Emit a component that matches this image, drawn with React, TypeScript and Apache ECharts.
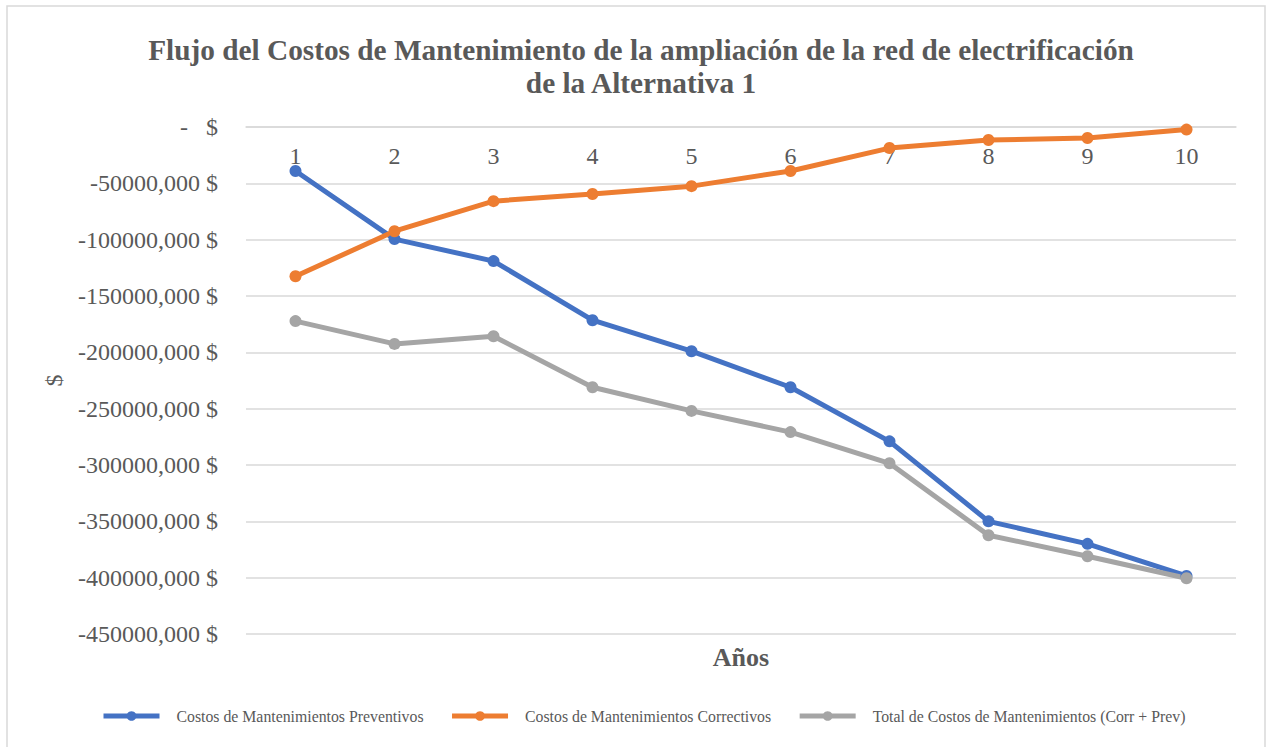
import React, { useEffect, useRef } from "react";
import * as echarts from "echarts";

const years = ["1", "2", "3", "4", "5", "6", "7", "8", "9", "10"];
const preventivos = [-39000, -99500, -119000, -171500, -199000, -231000, -279000, -350000, -370000, -398500];
const correctivos = [-132500, -92500, -65800, -59500, -52500, -39000, -18700, -11500, -9800, -2300];
const total = [-172300, -192500, -185700, -231000, -252000, -270800, -298500, -362300, -381000, -400500];

const FONT = '"Liberation Serif", "Times New Roman", serif';
const TXT = "#595959";
const GRID = "#d9d9d9";

export default function App() {
  const ref = useRef<HTMLDivElement>(null);
  useEffect(() => {
    if (!ref.current) return;
    const chart = echarts.init(ref.current, undefined, { renderer: "svg" });
    const mk = (name: string, data: number[], color: string) => ({
      name,
      type: "line",
      data,
      symbol: "circle",
      symbolSize: 12,
      itemStyle: { color },
      lineStyle: { color, width: 5 },
    });
    chart.setOption({
      animation: false,
      backgroundColor: "#fff",
      title: {
        text: "Flujo del Costos de Mantenimiento de la ampliación de la red de electrificación\nde la Alternativa 1",
        left: 636,
        textAlign: "center",
        top: 28,
        textStyle: { fontFamily: FONT, fontWeight: "bold", fontSize: 29.3, color: TXT, lineHeight: 33 },
      },
      grid: { left: 246, right: 30, top: 127, bottom: 113, containLabel: false },
      xAxis: {
        type: "category",
        data: years,
        position: "top",
        boundaryGap: true,
        axisLine: { show: true, lineStyle: { color: GRID, width: 1.5 } },
        axisTick: { show: false },
        axisLabel: { inside: true, margin: 17, fontFamily: FONT, fontSize: 24, color: TXT },
        splitLine: { show: false },
      },
      yAxis: {
        type: "value",
        min: -450000,
        max: 0,
        interval: 50000,
        name: "$",
        nameLocation: "middle",
        nameGap: 180,
        nameRotate: 90,
        nameTextStyle: { fontFamily: FONT, fontSize: 24, color: TXT },
        axisLine: { show: false },
        axisTick: { show: false },
        axisLabel: {
          margin: 28,
          fontFamily: FONT,
          fontSize: 24,
          color: TXT,
          formatter: (v: number) => (v === 0 ? "-   $" : `${v},000 $`),
        },
        splitLine: { lineStyle: { color: GRID, width: 1.5 } },
      },
      legend: {
        bottom: 18,
        left: 96,
        itemWidth: 56,
        itemHeight: 12,
        itemGap: 26,
        lineStyle: { width: 5 },
        textStyle: { fontFamily: FONT, fontSize: 15.8, color: TXT, padding: [0, 0, 0, 12] },
        data: [
          "Costos de Mantenimientos Preventivos",
          "Costos de Mantenimientos Correctivos",
          "Total de Costos de Mantenimientos (Corr + Prev)",
        ],
      },
      graphic: [
        {
          type: "rect",
          shape: { x: 7, y: 6, width: 1258, height: 760 },
          style: { fill: "none", stroke: GRID, lineWidth: 1.5 },
          silent: true,
        },
        {
          type: "text",
          x: 741,
          y: 657,
          style: {
            text: "Años",
            textAlign: "center",
            textVerticalAlign: "middle",
            font: `bold 26px ${FONT}`,
            fill: TXT,
          },
        },
      ],
      series: [
        mk("Costos de Mantenimientos Preventivos", preventivos, "#4472C4"),
        mk("Costos de Mantenimientos Correctivos", correctivos, "#ED7D31"),
        mk("Total de Costos de Mantenimientos (Corr + Prev)", total, "#A5A5A5"),
      ],
    });
    return () => chart.dispose();
  }, []);
  return (
    <div
      ref={ref}
      style={{ position: "fixed", left: 0, top: 0, width: 1266, height: 747, background: "#fff" }}
    />
  );
}
